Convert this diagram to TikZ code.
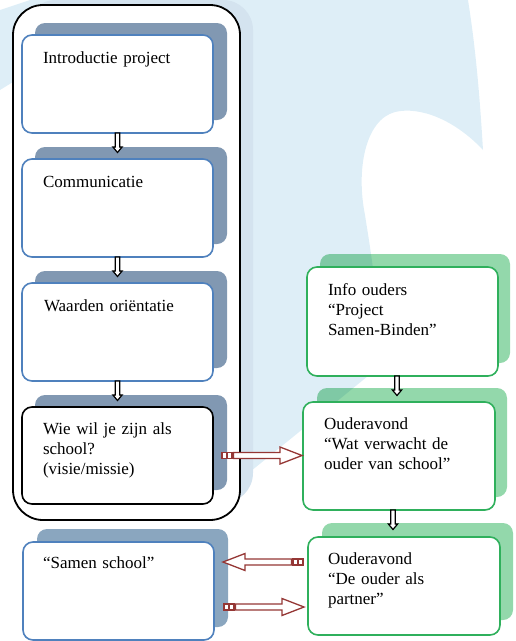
\documentclass[tikz,border=0pt]{standalone}
\usepackage{fontspec}
\setmainfont{Liberation Serif}
\definecolor{wm}{HTML}{DEEEF7}
\definecolor{oshadow}{HTML}{D4E3EF}
\definecolor{bshadow}{HTML}{8198B2}
\definecolor{bshadowb}{HTML}{8AA6BF}
\definecolor{bborder}{HTML}{4F81BD}
\definecolor{gshadow}{HTML}{93D8AB}
\definecolor{gborder}{HTML}{2FB05C}
\definecolor{ared}{HTML}{953735}
\begin{document}
\begin{tikzpicture}[x=1pt,y=-1pt,
  every node/.style={inner sep=0pt, outer sep=0pt},
  boxbase/.style={fill=white, line width=1.6pt, rounded corners=10pt, minimum width=191pt, anchor=north west},
  lbox/.style={boxbase, draw=bborder, minimum height=98pt},
  kbox/.style={boxbase, draw=black, minimum height=97pt},
  gbox/.style={boxbase, draw=gborder},
  lshadow/.style={fill=bshadow, rounded corners=10pt},
  gshadowst/.style={fill=gshadow, rounded corners=10pt},
  txt/.style={anchor=base west, text width=175pt, align=left, font=\fontsize{17}{20}\selectfont},
  pics/downarr/.style={code={
    \draw[fill=white, line width=1.2pt, line join=miter] (-2.2,0) -- (-2.2,14) -- (-4.6,14) -- (0,19.5) -- (4.6,14) -- (2.2,14) -- (2.2,0) -- cycle;}},
  pics/redarr/.style={code={
    \draw[ared, fill=white, line width=1.3pt] (0,-3) rectangle (4.5,3);
    \draw[ared, fill=white, line width=1.3pt] (5.5,-3) rectangle (10,3);
    \draw[ared, fill=white, line width=1.3pt, line join=miter] (11.5,-3) -- (58,-3) -- (58,-8.5) -- (80,0) -- (58,8.5) -- (58,3) -- (11.5,3) -- cycle;}}
]
\useasboundingbox (0,0) rectangle (515,641);
% watermark
\fill[wm] (30,0) -- (468,0) .. controls (476,50) and (480,100) .. (483,150)
  .. controls (455,120) and (420,106) .. (395,112)
  .. controls (365,120) and (356,170) .. (365,215)
  .. controls (372,260) and (385,330) .. (368,376)
  -- (240,480) -- (13,82) -- (0,90) -- (0,10) -- cycle;
% outer frame
\fill[oshadow, rounded corners=30pt] (26,0) rectangle (253,503);
\node[draw=black, line width=1.8pt, fill=white, rounded corners=30pt, minimum width=227pt, minimum height=515pt, anchor=north west] (outer) at (13,5) {};
% left column
\fill[lshadow] (35,23) rectangle (227,120);
\fill[lshadow] (35,147) rectangle (227,244);
\fill[lshadow] (35,271) rectangle (227,368);
\fill[lshadow] (35,395) rectangle (227,490);
\node[lbox] (b1) at (22,35) {};
\node[lbox] (b2) at (22,159) {};
\node[lbox] (b3) at (22,283) {};
\node[kbox] (b4) at (22,407) {};
\node[txt] (t1) at (43,63) {Introductie project};
\node[txt] (t2) at (43,187) {Communicatie};
\node[txt] (t3) at (44,311) {Waarden oriëntatie};
\node[txt] (t4) at (43,434) {Wie wil je zijn als\\school?\\(visie/missie)};
\pic at (b1.south) {downarr};
\pic at (b2.south) {downarr};
\pic at (b3.south) {downarr};
% samen school
\fill[fill=bshadowb, rounded corners=10pt] (37,529) rectangle (228,627);
\node[lbox] (s1) at (23,542) {};
\node[txt] (ts) at (43,568) {“Samen school”};
% right column
\begin{scope}[blend mode=multiply]
\fill[gshadowst] (320,254) rectangle (510,363);
\fill[gshadowst] (317,388) rectangle (507,497);
\fill[gshadowst] (322,523) rectangle (513,620);
\end{scope}
\node[gbox, minimum height=109pt] (i1) at (307,267) {};
\node[gbox, minimum height=108pt, minimum width=192pt] (o1) at (303,402) {};
\node[gbox, minimum height=98pt, minimum width=192pt] (o2) at (308,537) {};
\node[txt] (ti) at (328,295) {Info ouders\\“Project\\Samen-Binden”};
\node[txt] (to1) at (324,429) {Ouderavond\\“Wat verwacht de\\ouder van school”};
\node[txt] (to2) at (328,564) {Ouderavond\\“De ouder als\\partner”};
\pic at ([xshift=-5.5pt]i1.south) {downarr};
\pic at ([xshift=-6pt]o1.south) {downarr};
% red arrows
\pic at ([xshift=9pt]b4.east) {redarr};
\pic[rotate=180] at ([shift={(-5,-24)}]o2.west) {redarr};
\pic at ([shift={(10,16)}]s1.east) {redarr};
\end{tikzpicture}
\end{document}
